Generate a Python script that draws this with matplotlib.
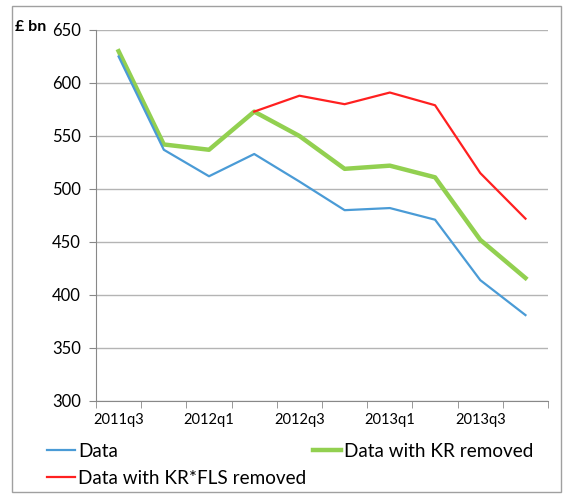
import matplotlib.pyplot as plt
import matplotlib.patches as mpatches
import numpy as np

plt.rcParams['font.family'] = ['Lato', 'DejaVu Sans']

quarters = ["2011q3", "2011q4", "2012q1", "2012q2", "2012q3",
            "2012q4", "2013q1", "2013q2", "2013q3", "2013q4"]
data = [625, 537, 512, 533, 507, 480, 482, 471, 414, 381]
data_kr = [630, 542, 537, 573, 550, 519, 522, 511, 452, 416]
data_kr_fls = [np.nan, np.nan, np.nan, 573, 588, 580, 591, 579, 515, 472]

fig = plt.figure(figsize=(5.63, 4.95), dpi=100)
ax = fig.add_axes([0.1705, 0.19, 0.803, 0.7494])

x = np.arange(len(quarters))
l1, = ax.plot(x, data, color="#4a9bd6", lw=1.6, label="Data", zorder=3)
l2, = ax.plot(x, data_kr, color="#92d050", lw=3.2, label="Data with KR removed", zorder=2)
l3, = ax.plot(x, data_kr_fls, color="#ff2020", lw=1.6, label="Data with KR*FLS removed", zorder=4)

ax.set_xlim(-0.5, len(quarters) - 0.5)
ax.set_ylim(300, 650)
ax.set_yticks(np.arange(300, 651, 50))
ax.set_xticks(x[::2])
ax.set_xticklabels(quarters[::2], fontsize=10.5)
ax.set_xticks(np.arange(-0.5, len(quarters)), minor=True)
ax.tick_params(axis="x", which="major", length=0, pad=9)
ax.tick_params(axis="x", which="minor", length=5, color="#888888")
ax.tick_params(axis="y", length=5, color="#888888", labelsize=12, pad=6)
ax.grid(axis="y", color="#b4b4b4", lw=1)
ax.set_axisbelow(True)
for side in ["top", "right"]:
    ax.spines[side].set_visible(False)
for side in ["left", "bottom"]:
    ax.spines[side].set_color("#888888")

fig.text(0.027, 0.945, "£ bn", fontsize=11.5, fontweight="bold", va="center")

# row-major order like the original: Data, KR removed / KR*FLS removed
fig.legend([l1, l3, l2], [l1.get_label(), l3.get_label(), l2.get_label()],
           loc="upper left", bbox_to_anchor=(0.083, 0.106), ncol=2, frameon=False,
           fontsize=13.6, handlelength=1.5, handletextpad=0.15, columnspacing=0.35,
           labelspacing=0.55, borderaxespad=0, borderpad=0)

fig.patches.append(mpatches.Rectangle((0.021, 0.006), 0.975, 0.982, transform=fig.transFigure,
                                      fill=False, edgecolor="#a0a0a0", lw=1))

fig.savefig("out.png", dpi=100)
